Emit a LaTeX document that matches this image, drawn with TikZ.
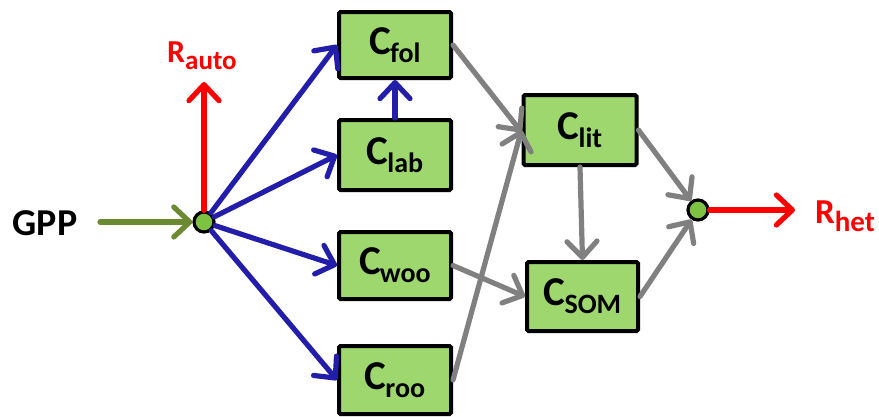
\documentclass[tikz,border=0pt]{standalone}
\usepackage{fontspec}
\setmainfont{Carlito}
\usetikzlibrary{arrows.meta}
\definecolor{poolfill}{RGB}{158,215,110}
\definecolor{hubfill}{RGB}{125,195,65}
\definecolor{flowblue}{RGB}{34,30,170}
\definecolor{flowgray}{RGB}{128,128,128}
\definecolor{flowolive}{RGB}{107,138,50}
\definecolor{flowred}{RGB}{255,0,0}
% pool name with subscript
\newcommand\poolname[2]{{\fontsize{41}{41}\selectfont #1}\kern-1pt\raisebox{-8pt}{\fontsize{28}{28}\selectfont #2}}
\begin{document}
\begin{tikzpicture}[x=1pt,y=-1pt,
  pool/.style={draw=black,line width=4pt,fill=poolfill,rounded corners=1.5pt,
    minimum width=112pt,inner sep=0pt,font=\bfseries},
  hub/.style={circle,draw=black,line width=3.2pt,fill=hubfill,minimum size=20pt,inner sep=0pt},
  flow/.style={line width=5.2pt,line cap=round,line join=round,
    -{Straight Barb[length=16pt,width=30pt,round]}},
  lbl/.style={inner sep=0pt,font=\bfseries}]
\useasboundingbox (0,0) rectangle (879,416);

% carbon pools
\node[pool,minimum height=66pt] (fol) at (395,45) {\poolname{C}{fol}};
\node[pool,minimum height=70pt] (lab) at (395,155) {\poolname{C}{lab}};
\node[pool,minimum height=67pt] (woo) at (395,265.5) {\poolname{C}{woo}};
\node[pool,minimum height=68pt] (roo) at (395,380) {\poolname{C}{roo}};
\node[pool,minimum width=113pt,minimum height=70pt] (lit) at (580,130) {\poolname{C}{lit}};
\node[pool,minimum width=111pt,minimum height=69pt] (som) at (582.5,296.5) {\poolname{C}{SOM}};

% junctions
\node[hub] (inhub) at (204,222) {};
\node[hub] (outhub) at (698,210) {};

% labels
\node[lbl,anchor=base] (gpp) at (45,235) {\fontsize{38}{38}\selectfont GPP};
\node[lbl,anchor=base west,text=flowred] (rauto) at (167,62)
  {{\fontsize{32}{32}\selectfont R}\raisebox{-7pt}{\fontsize{27}{27}\selectfont auto}};
\node[lbl,anchor=base west,text=flowred] (rhet) at (815,223)
  {{\fontsize{35}{35}\selectfont R}\raisebox{-8pt}{\fontsize{29}{29}\selectfont het}};

\coordinate (gppend) at (100,222);
\coordinate (rautoend) at (204,82);
\coordinate (rhetend) at (795,210);

% input and autotrophic respiration
\draw[flow,flowolive] (gppend) -- (inhub);
\draw[flow,flowred] (inhub) -- (rautoend);

% allocation
\draw[flow,flowblue] (inhub) -- (fol.west);
\draw[flow,flowblue] (inhub) -- (lab.west);
\draw[flow,flowblue] (inhub) -- (woo.west);
\draw[flow,flowblue] (inhub) -- (roo.west);
\draw[flow,flowblue] (lab.north) -- (fol.south);

% litter and soil transfers
\draw[flow,flowgray] (fol.east) -- ([yshift=-2pt]lit.west);
\draw[flow,flowgray] (roo.east) -- (lit.west);
\draw[flow,flowgray] (woo.east) -- (som.west);
\draw[flow,flowgray] (lit.south) -- (som.north);
\draw[flow,flowgray] (lit.east) -- (outhub);
\draw[flow,flowgray] (som.east) -- (outhub);

% heterotrophic respiration
\draw[flow,flowred] (outhub) -- (rhetend);
\end{tikzpicture}
\end{document}
